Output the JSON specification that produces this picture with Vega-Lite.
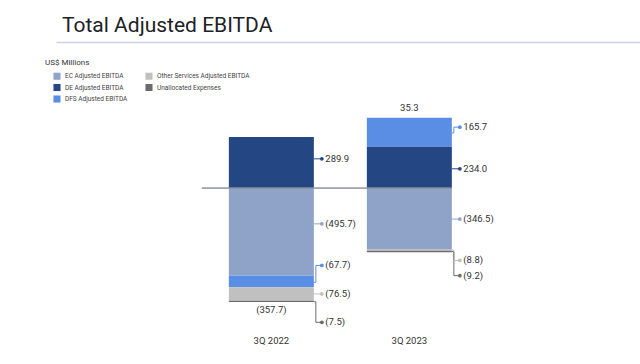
{
  "$schema": "https://vega.github.io/schema/vega-lite/v6.json",
  "autosize": {"type": "none"},
  "width": 584,
  "height": 229,
  "padding": {"left": 56, "top": 100, "right": 0, "bottom": 35},
  "background": "white",
  "config": {
    "view": {"stroke": null},
    "font": "Roboto",
    "text": {"font": "Roboto"}
  },
  "title": {
    "text": "Total Adjusted EBITDA",
    "anchor": "start",
    "frame": "group",
    "fontSize": 21,
    "fontWeight": "normal",
    "font": "Roboto",
    "color": "#202124",
    "dx": 6,
    "dy": -6,
    "offset": 0
  },
  "datasets": {
    "seg": [
      {"period": "3Q 2022", "series": "DE Adjusted EBITDA", "value": 289.9, "ord": 2, "lab": 166, "anchor": 166, "label": "289.9"},
      {"period": "3Q 2022", "series": "EC Adjusted EBITDA", "value": -495.7, "ord": 1, "lab": -203, "anchor": -203, "label": "(495.7)"},
      {"period": "3Q 2022", "series": "DFS Adjusted EBITDA", "value": -67.7, "ord": 3, "lab": -439, "anchor": -535, "label": "(67.7)"},
      {"period": "3Q 2022", "series": "Other Services Adjusted EBITDA", "value": -76.5, "ord": 4, "lab": -601, "anchor": -601, "label": "(76.5)"},
      {"period": "3Q 2022", "series": "Unallocated Expenses", "value": -7.5, "ord": 5, "lab": -762, "anchor": -645, "label": "(7.5)"},
      {"period": "3Q 2023", "series": "DFS Adjusted EBITDA", "value": 165.7, "ord": 3, "lab": 346, "anchor": 313, "label": "165.7"},
      {"period": "3Q 2023", "series": "DE Adjusted EBITDA", "value": 234.0, "ord": 2, "lab": 109.5, "anchor": 109.5, "label": "234.0"},
      {"period": "3Q 2023", "series": "EC Adjusted EBITDA", "value": -346.5, "ord": 1, "lab": -176, "anchor": -176, "label": "(346.5)"},
      {"period": "3Q 2023", "series": "Other Services Adjusted EBITDA", "value": -8.8, "ord": 4, "lab": -411, "anchor": -351, "label": "(8.8)"},
      {"period": "3Q 2023", "series": "Unallocated Expenses", "value": -9.2, "ord": 5, "lab": -497, "anchor": -360, "label": "(9.2)"}
    ],
    "tot": [
      {"period": "3Q 2022", "total": -357.7, "lab": -692, "label": "(357.7)"},
      {"period": "3Q 2023", "total": 35.3, "lab": 453.6, "label": "35.3"}
    ]
  },
  "resolve": {"axis": {"x": "independent"}},
  "encoding": {
    "x": {
      "field": "period",
      "type": "nominal",
      "sort": null,
      "scale": {"domain": ["d0", "3Q 2022", "3Q 2023", "d3"], "paddingInner": 0.384, "paddingOuter": 0.308, "align": 0.41},
      "axis": null
    }
  },
  "layer": [
    {
      "data": {"name": "seg"},
      "mark": {"type": "bar"},
      "encoding": {
        "x": {
          "field": "period", "type": "nominal", "sort": null,
          "scale": {"domain": ["d0", "3Q 2022", "3Q 2023", "d3"], "paddingInner": 0.384, "paddingOuter": 0.308, "align": 0.41},
          "axis": {"orient": "bottom", "values": ["3Q 2022", "3Q 2023"], "labelAngle": 0, "domain": false, "ticks": false, "title": null, "labelPadding": 6, "labelFontSize": 9.5, "labelColor": "#333333", "labelFont": "Roboto"}
        },
        "y": {
          "field": "value", "type": "quantitative", "aggregate": "sum", "stack": "zero",
          "scale": {"domain": [-800, 500], "nice": false, "zero": false},
          "axis": null
        },
        "color": {
          "field": "series", "type": "nominal",
          "scale": {
            "domain": ["EC Adjusted EBITDA", "DE Adjusted EBITDA", "DFS Adjusted EBITDA", "Other Services Adjusted EBITDA", "Unallocated Expenses"],
            "range": ["#8fa3c8", "#244784", "#5a8de4", "#c0c0c0", "#6b6b6b"]
          },
          "legend": {
            "orient": "none", "legendX": -11, "legendY": -41,
            "title": "US$ Millions", "titleFontSize": 8, "titleFontWeight": "normal", "titleColor": "#333333", "titleFont": "Roboto", "titlePadding": 5,
            "columns": 2, "symbolType": "square", "symbolSize": 50, "symbolStrokeWidth": 0, "symbolOffset": 8,
            "labelFontSize": 6.5, "labelColor": "#444444", "labelFont": "Roboto", "rowPadding": 3.5, "columnPadding": 9, "labelLimit": 200
          }
        },
        "order": {"field": "ord", "type": "quantitative"}
      }
    },
    {
      "data": {"name": "tot"},
      "mark": {"type": "rule", "color": "#8c939c", "strokeWidth": 1, "xOffset": -27},
      "encoding": {
        "x": {"datum": "3Q 2022", "bandPosition": 0, "axis": {"orient": "top", "labels": false, "ticks": false, "domain": true, "domainColor": "#cdd4de", "domainWidth": 1.5, "offset": 58, "title": null, "grid": false}},
        "x2": {"datum": "3Q 2023", "bandPosition": 1},
        "y": {"datum": 0, "type": "quantitative"}
      }
    },
    {
      "data": {"name": "seg"},
      "mark": {"type": "rule", "strokeWidth": 1, "xOffset": 42.5, "x2Offset": 44.5},
      "encoding": {
        "x": {"field": "period", "type": "nominal", "axis": null},
        "x2": {"field": "period"},
        "y": {"field": "anchor", "type": "quantitative"},
        "color": {"field": "series", "type": "nominal", "legend": null}
      }
    },
    {
      "data": {"name": "seg"},
      "mark": {"type": "rule", "strokeWidth": 1, "xOffset": 44.5},
      "encoding": {
        "x": {"field": "period", "type": "nominal", "axis": null},
        "y": {"field": "anchor", "type": "quantitative"},
        "y2": {"field": "lab"},
        "color": {"field": "series", "type": "nominal", "legend": null}
      }
    },
    {
      "data": {"name": "seg"},
      "mark": {"type": "rule", "strokeWidth": 1, "xOffset": 44.5, "x2Offset": 50.5},
      "encoding": {
        "x": {"field": "period", "type": "nominal", "axis": null},
        "x2": {"field": "period"},
        "y": {"field": "lab", "type": "quantitative"},
        "color": {"field": "series", "type": "nominal", "legend": null}
      }
    },
    {
      "data": {"name": "seg"},
      "mark": {"type": "point", "filled": true, "size": 14, "opacity": 1, "xOffset": 50.5},
      "encoding": {
        "x": {"field": "period", "type": "nominal", "axis": null},
        "y": {"field": "lab", "type": "quantitative"},
        "color": {"field": "series", "type": "nominal", "legend": null}
      }
    },
    {
      "data": {"name": "seg"},
      "mark": {"type": "text", "align": "left", "baseline": "middle", "fontSize": 9.5, "color": "#333333", "xOffset": 54, "font": "Roboto"},
      "encoding": {
        "x": {"field": "period", "type": "nominal", "axis": null},
        "y": {"field": "lab", "type": "quantitative"},
        "text": {"field": "label"}
      }
    },
    {
      "data": {"name": "tot"},
      "mark": {"type": "text", "align": "center", "baseline": "middle", "fontSize": 9.5, "color": "#333333", "font": "Roboto"},
      "encoding": {
        "x": {"field": "period", "type": "nominal", "axis": null},
        "y": {"field": "lab", "type": "quantitative"},
        "text": {"field": "label"}
      }
    }
  ]
}
